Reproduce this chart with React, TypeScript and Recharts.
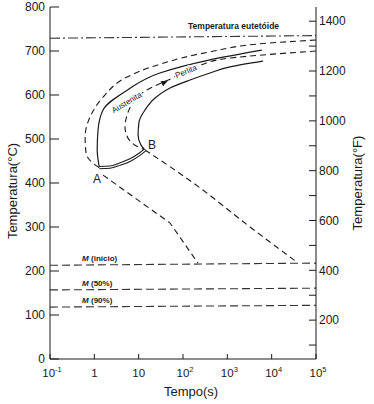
import React from 'react';
import { LineChart, Line, XAxis, YAxis, ReferenceDot } from 'recharts';

type Pt = { t: number; c: number };
const pts = (rows: number[][]): Pt[] => rows.map(([t, c]) => ({ t, c }));

// axis ticks
const timeTicks = [0.1, 1, 10, 100, 1000, 10000, 100000];
const topTicks = [1, 10, 100, 1000, 10000];
const celsiusTicks = [0, 100, 200, 300, 400, 500, 600, 700, 800];
const fahrenheitTicks = [100, 200, 300, 400, 500, 600, 700, 800, 900, 1000, 1100, 1200, 1300, 1400];

// curves: [time (s), temperature (°C)]
const eutectoid = pts([[0.1, 729], [100000, 735]]);
const outerStart = pts([
  [100000, 725], [8700, 718], [407, 698], [30, 670], [5.5, 641], [1.57, 595],
  [0.8, 550], [0.62, 505], [0.65, 468], [0.93, 445], [1.3, 435],
]);
const upperSolid = pts([
  [6000, 702], [407, 680], [30, 650], [5.5, 611], [1.57, 566], [1.21, 520], [1.16, 475], [1.3, 435],
]);
const innerDashed = pts([
  [100000, 700], [6380, 691], [1150, 684], [242, 668], [51, 636], [13.9, 609], [7.45, 582],
  [5.5, 555], [4.92, 527], [5.75, 502], [8.26, 486], [13.9, 475],
]);
const lowerSolid = pts([
  [6380, 677], [1150, 664], [407, 650], [144, 634], [51, 616], [23.4, 593], [13.9, 566],
  [10.2, 539], [9.7, 509], [11.3, 486], [13.9, 475],
]);
const bridgeAB = pts([[1.3, 435], [2.25, 436], [3.79, 443], [6.38, 452], [10.7, 466], [13.9, 475]]);
const fromA = pts([[1.57, 418], [51, 309], [218, 218]]);
const fromB = pts([[13.9, 475], [242, 389], [3250, 300], [37300, 220]]);
const mStart = pts([[0.1, 213], [100000, 218]]);
const m50 = pts([[0.1, 157], [100000, 161]]);
const m90 = pts([[0.1, 118], [100000, 122]]);

const INK = '#1a1a1a';
const FONT = '"Liberation Sans", Arial, sans-serif';

const XTick = ({ x, y, payload }: any) => {
  const v = payload.value as number;
  const exp = Math.round(Math.log10(v));
  if (exp === 0 || exp === 1) {
    return (
      <text x={x} y={y + 18} textAnchor="middle" fontSize={11.5} fill={INK}>{v}</text>
    );
  }
  return (
    <text x={x + 2} y={y + 18} textAnchor="middle" fontSize={11.5} fill={INK}>
      10<tspan dy={-5} fontSize={7.5}>{exp}</tspan>
    </text>
  );
};

const curve = (data: Pt[], dashed: boolean, type: any = 'monotoneY', key?: string) => (
  <Line
    key={key}
    data={data}
    dataKey="c"
    yAxisId="c"
    type={type}
    stroke={INK}
    strokeWidth={dashed ? 1.1 : 1.2}
    strokeDasharray={dashed ? '6 4' : undefined}
    dot={false}
    activeDot={false}
    isAnimationActive={false}
  />
);

const mLine = (data: Pt[], key: string) => (
  <Line
    key={key}
    data={data}
    dataKey="c"
    yAxisId="c"
    type="linear"
    stroke="#333"
    strokeWidth={1.1}
    strokeDasharray="8 4"
    dot={false}
    activeDot={false}
    isAnimationActive={false}
  />
);

const note = (
  key: string,
  t: number,
  c: number,
  text: React.ReactNode,
  opts: { size?: number; bold?: boolean; anchor?: string; angle?: number; halo?: boolean } = {},
) => (
  <ReferenceDot
    key={key}
    x={t}
    y={c}
    yAxisId="c"
    r={0}
    ifOverflow="visible"
    shape={(p: any) => (
      <text
        x={p.cx}
        y={p.cy}
        fontSize={opts.size ?? 8}
        fontWeight={opts.bold ? 700 : 400}
        textAnchor={opts.anchor ?? 'start'}
        fill={INK}
        stroke={opts.halo ? '#fff' : 'none'}
        strokeWidth={opts.halo ? 3 : 0}
        paintOrder="stroke"
        transform={opts.angle ? `rotate(${opts.angle}, ${p.cx}, ${p.cy})` : undefined}
      >
        {text}
      </text>
    )}
  />
);

export default function App() {
  return (
    <div style={{ position: 'absolute', left: 0, top: 0, background: '#fff' }}>
      <LineChart
        width={374}
        height={404}
        margin={{ top: 7, right: 0, bottom: 0, left: 0 }}
        style={{ fontFamily: FONT }}
      >
        <XAxis
          dataKey="t"
          type="number"
          scale="log"
          domain={[0.1, 100000]}
          ticks={timeTicks}
          interval={0}
          allowDataOverflow
          height={45}
          stroke={INK}
          tickSize={-5}
          tickMargin={5}
          tick={<XTick />}
          label={{
            content: ({ viewBox }: any) => (
              <text x={viewBox.x + 141} y={396} textAnchor="middle" fontSize={13} fill={INK}>
                Tempo(s)
              </text>
            ),
          }}
        />
        <XAxis
          xAxisId="top"
          orientation="top"
          type="number"
          scale="log"
          domain={[0.1, 100000]}
          ticks={topTicks}
          interval={0}
          allowDataOverflow
          height={0}
          stroke={INK}
          tickSize={-7}
          tick={() => <g />}
        />
        <YAxis
          yAxisId="c"
          type="number"
          domain={[0, 800]}
          ticks={celsiusTicks}
          interval={0}
          allowDataOverflow
          width={50}
          stroke={INK}
          tickSize={-9}
          tickMargin={14}
          tick={{ fill: INK, fontSize: 12 }}
          label={{
            content: ({ viewBox }: any) => {
              const cx = viewBox.x + 12;
              const cy = viewBox.y + viewBox.height / 2 + 8;
              return (
                <text
                  x={cx}
                  y={cy}
                  textAnchor="middle"
                  dominantBaseline="central"
                  fontSize={13}
                  fill={INK}
                  transform={`rotate(-90, ${cx}, ${cy})`}
                >
                  Temperatura(°C)
                </text>
              );
            },
          }}
        />
        <YAxis
          yAxisId="f"
          orientation="right"
          type="number"
          domain={[44, 1457]}
          ticks={fahrenheitTicks}
          interval={0}
          allowDataOverflow
          width={58}
          stroke={INK}
          tickSize={-7}
          tickMargin={10}
          tick={{ fill: INK, fontSize: 12 }}
          tickFormatter={(v: number) => (v % 200 === 0 ? String(v) : '')}
          label={{
            content: ({ viewBox }: any) => {
              const cx = viewBox.x + 41;
              const cy = viewBox.y + viewBox.height / 2;
              return (
                <text
                  x={cx}
                  y={cy}
                  textAnchor="middle"
                  dominantBaseline="central"
                  fontSize={13}
                  fill={INK}
                  transform={`rotate(-90, ${cx}, ${cy})`}
                >
                  Temperatura(°F)
                </text>
              );
            },
          }}
        />

        <Line
          data={eutectoid}
          dataKey="c"
          yAxisId="c"
          type="linear"
          stroke="#333"
          strokeWidth={1.1}
          strokeDasharray="10 3 2 3"
          dot={false}
          activeDot={false}
          isAnimationActive={false}
        />
        {curve(outerStart, true, 'monotoneY', 'outer')}
        {curve(upperSolid, false, 'monotoneY', 'upper')}
        {curve(innerDashed, true, 'monotoneY', 'inner')}
        {curve(lowerSolid, false, 'monotoneY', 'lower')}
        {curve(fromA, true, 'linear', 'fromA')}
        {curve(fromB, true, 'monotoneX', 'fromB')}
        <Line
          data={bridgeAB}
          dataKey="c"
          yAxisId="c"
          type="monotoneX"
          stroke={INK}
          strokeWidth={3.4}
          dot={false}
          activeDot={false}
          isAnimationActive={false}
        />
        <Line
          data={bridgeAB}
          dataKey="c"
          yAxisId="c"
          type="monotoneX"
          stroke="#fff"
          strokeWidth={1.2}
          dot={false}
          activeDot={false}
          isAnimationActive={false}
        />
        {mLine(mStart, 'ms')}
        {mLine(m50, 'm50')}
        {mLine(m90, 'm90')}

        {note('eut', 130, 750, 'Temperatura eutetóide', { size: 8.5, bold: true })}
        {note('ms', 0.53, 223, <><tspan fontStyle="italic">M</tspan> (início)</>, { bold: true })}
        {note('m50', 0.53, 166, <><tspan fontStyle="italic">M</tspan> (50%)</>, { bold: true })}
        {note('m90', 0.53, 127, <><tspan fontStyle="italic">M</tspan> (90%)</>, { bold: true })}
        {note('A', 1.15, 400, 'A', { size: 12, anchor: 'middle' })}
        {note('B', 20, 477, 'B', { size: 12, anchor: 'middle' })}
        {note('aus', 5.75, 578, 'Austenita', { size: 8, anchor: 'middle', angle: -31, halo: true })}
        {note('per', 123, 648, 'Perlita', { size: 8, anchor: 'middle', angle: -22, halo: true })}
        <ReferenceDot
          x={46}
          y={633}
          yAxisId="c"
          r={0}
          ifOverflow="visible"
          shape={(p: any) => (
            <polygon
              points="0,0 -7,-2.8 -7,2.8"
              fill={INK}
              transform={`translate(${p.cx}, ${p.cy}) rotate(-27)`}
            />
          )}
        />
      </LineChart>
    </div>
  );
}
